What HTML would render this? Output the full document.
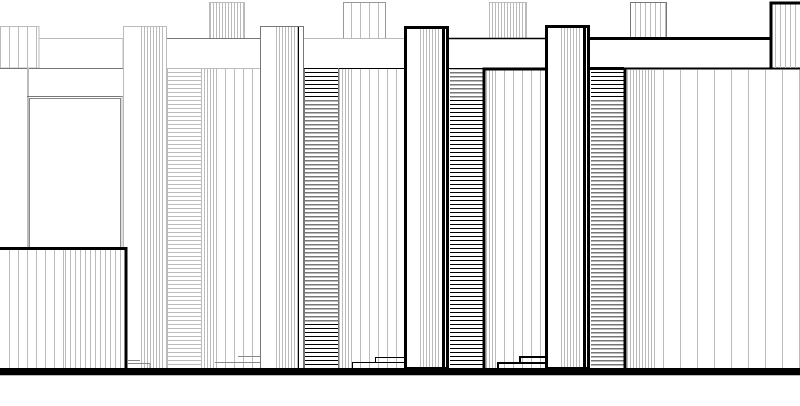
<!DOCTYPE html>
<html><head><style>html,body{margin:0;padding:0;background:#fff}svg{display:block}</style></head>
<body>
<svg width="800" height="406" viewBox="0 0 800 406" xmlns="http://www.w3.org/2000/svg">
<defs>
<pattern id="vd" width="3" height="10" patternUnits="userSpaceOnUse"><rect x="0" y="0" width="1" height="10" fill="#bbb"/></pattern>
<pattern id="vm" width="5" height="10" patternUnits="userSpaceOnUse"><rect x="0" y="0" width="1" height="10" fill="#bbb"/></pattern>
<pattern id="vs" width="9" height="10" patternUnits="userSpaceOnUse"><rect x="0" y="0" width="1" height="10" fill="#bbb"/></pattern>
<pattern id="vw" width="17" height="10" patternUnits="userSpaceOnUse"><rect x="0" y="0" width="1" height="10" fill="#bbb"/></pattern>
<pattern id="hl" width="10" height="4" patternUnits="userSpaceOnUse"><rect x="0" y="0" width="10" height="1" fill="#bbb"/></pattern>
<pattern id="hg" width="10" height="4" patternUnits="userSpaceOnUse"><rect x="0" y="0" width="10" height="1.5" fill="#777"/></pattern>
<pattern id="hb" width="10" height="4" patternUnits="userSpaceOnUse"><rect x="0" y="0" width="10" height="1" fill="#000"/></pattern>
</defs>

<!-- top left block -->
<rect x="0" y="26" width="39" height="42" fill="url(#vs)"/>
<rect x="0.5" y="26.5" width="38.5" height="41.5" fill="none" stroke="#bbb"/>
<rect x="39" y="38.5" width="84" height="30" fill="none" stroke="#bbb"/>
<line x1="0" y1="68.5" x2="123" y2="68.5" stroke="#777"/>
<rect x="27" y="68" width="2" height="180" fill="#bbb"/>
<line x1="27" y1="96.5" x2="123" y2="96.5" stroke="#777"/>
<rect x="29.5" y="98.5" width="91" height="150" fill="none" stroke="#888"/>
<line x1="122" y1="96" x2="122" y2="248" stroke="#bbb"/>

<!-- column 1 -->
<rect x="139" y="27" width="24" height="341" fill="url(#vd)"/>
<rect x="123.5" y="26.5" width="43" height="342" fill="none" stroke="#bbb"/>
<rect x="209" y="2" width="35" height="36" fill="url(#vd)"/>
<rect x="209.5" y="2.5" width="35" height="36" fill="none" stroke="#bbb"/>
<line x1="167" y1="38.5" x2="260" y2="38.5" stroke="#777"/>
<line x1="167" y1="68.5" x2="260" y2="68.5" stroke="#bbb"/>
<rect x="167" y="69" width="34" height="299" fill="url(#hl)"/>
<line x1="167.5" y1="68" x2="167.5" y2="368" stroke="#bbb"/>
<line x1="201.5" y1="68" x2="201.5" y2="368" stroke="#bbb"/>
<rect x="202" y="69" width="12" height="299" fill="url(#vd)"/>
<rect x="214" y="69" width="44" height="299" fill="url(#vs)"/>

<!-- bottom left -->
<rect x="0" y="247" width="127" height="121" fill="#fff"/>
<rect x="4" y="249" width="60" height="119" fill="url(#vs)"/>
<rect x="64" y="249" width="61" height="119" fill="url(#vm)"/>
<path d="M0 248.5 H126 V368" fill="none" stroke="#000" stroke-width="3"/>
<path d="M128 360.5 H140 M128 363.5 H150 V368" fill="none" stroke="#888"/>
<path d="M238 356.5 H260 M215 362.5 H260" fill="none" stroke="#888"/>

<!-- column 2 -->
<rect x="276" y="27" width="22" height="341" fill="url(#vd)"/>
<rect x="260.5" y="26.5" width="43" height="342" fill="none" stroke="#777"/>
<line x1="298.5" y1="27" x2="298.5" y2="368" stroke="#000"/>
<rect x="343" y="2" width="42" height="36" fill="url(#vs)"/>
<rect x="343.5" y="2.5" width="42" height="36" fill="none" stroke="#999"/>
<line x1="304" y1="38.5" x2="404" y2="38.5" stroke="#bbb"/>
<rect x="304" y="69" width="34" height="30" fill="url(#hb)"/>
<rect x="304" y="99" width="34" height="225" fill="url(#hg)"/>
<rect x="304" y="324" width="34" height="44" fill="url(#hb)"/>
<line x1="304.5" y1="68" x2="304.5" y2="368" stroke="#777"/>
<line x1="304" y1="68.5" x2="404" y2="68.5" stroke="#000"/>
<line x1="338.5" y1="68" x2="338.5" y2="368" stroke="#777"/>
<rect x="339" y="69" width="14" height="299" fill="url(#vd)"/>
<rect x="353" y="69" width="48" height="299" fill="url(#vs)"/>
<path d="M375 357.5 H404 M352 362.5 H404 M352.5 362 V368 M375.5 357 V362" fill="none" stroke="#000"/>

<!-- column 3 -->
<rect x="420" y="27" width="20" height="341" fill="url(#vd)"/>
<rect x="405.5" y="27.5" width="42" height="341" fill="none" stroke="#000" stroke-width="3"/>
<rect x="442" y="27" width="3" height="341" fill="#000"/>
<rect x="489" y="2" width="37" height="36" fill="url(#vd)"/>
<rect x="489.5" y="2.5" width="37" height="36" fill="none" stroke="#bbb"/>
<line x1="449" y1="38.5" x2="545" y2="38.5" stroke="#000" stroke-width="1.5"/>
<rect x="450" y="69" width="33" height="30" fill="url(#hg)"/>
<rect x="450" y="99" width="33" height="269" fill="url(#hb)"/>
<line x1="449" y1="68.5" x2="483" y2="68.5" stroke="#000"/>
<rect x="484" y="70" width="14" height="298" fill="url(#vd)"/>
<rect x="498" y="70" width="45" height="298" fill="url(#vs)"/>
<path d="M484 368 V69 H545" fill="none" stroke="#000" stroke-width="3"/>
<path d="M498 368 V363 H545 M520 363 V357 H545" fill="none" stroke="#000" stroke-width="2"/>

<!-- column 4 -->
<rect x="560" y="27" width="22" height="341" fill="url(#vd)"/>
<rect x="546.5" y="26.5" width="42" height="342" fill="none" stroke="#000" stroke-width="3"/>
<rect x="583" y="27" width="3" height="341" fill="#000"/>
<rect x="630" y="2" width="37" height="36" fill="url(#vm)"/>
<rect x="630.5" y="2.5" width="36" height="36" fill="none" stroke="#777"/>
<rect x="591" y="70" width="33" height="30" fill="url(#hb)"/>
<rect x="591" y="100" width="33" height="268" fill="url(#hg)"/>
<line x1="590" y1="38.5" x2="771" y2="38.5" stroke="#000" stroke-width="3"/>
<line x1="590" y1="68.5" x2="624" y2="68.5" stroke="#000" stroke-width="3"/>
<line x1="624" y1="68.5" x2="800" y2="68.5" stroke="#000" stroke-width="2"/>
<rect x="626" y="70" width="30" height="298" fill="url(#vd)"/>
<rect x="656" y="70" width="144" height="298" fill="url(#vw)"/>
<line x1="625" y1="68" x2="625" y2="368" stroke="#000" stroke-width="3"/>
<rect x="772" y="3" width="28" height="65" fill="url(#vm)"/>
<path d="M771 68 V3 H800" fill="none" stroke="#000" stroke-width="3"/>

<!-- ground -->
<rect x="0" y="368" width="800" height="7" fill="#000"/>
<rect x="0" y="375" width="800" height="1" fill="#bbb"/>
</svg>
</body></html>
